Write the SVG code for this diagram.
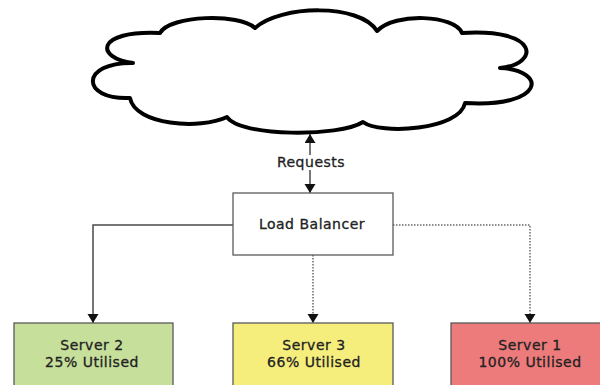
<svg xmlns="http://www.w3.org/2000/svg" width="600" height="385" viewBox="0 0 600 385">
<style>
  .lbl{font-family:"DejaVu Sans",Verdana,sans-serif;font-size:14px;letter-spacing:0.5px;fill:#222;stroke:#222;stroke-width:0.3;text-anchor:middle}
  .box{stroke:#5a5a5a;stroke-width:1.3}
  .solid{fill:none;stroke:#4a4a4a;stroke-width:1.5}
  .dot{fill:none;stroke:#6a6a6a;stroke-width:1.5;stroke-dasharray:1.5 1.5}
</style>
<defs>
  <marker id="ah" markerUnits="userSpaceOnUse" markerWidth="12" markerHeight="12" refX="9" refY="5.5" orient="auto">
    <polygon points="0,0 9,5.5 0,11" fill="#111"/>
  </marker>
</defs>
<rect width="600" height="385" fill="#fff"/>
<g id="cloud">
  <path d="M133,63 C95,58 95,30 160,33 C170,15 240,13 255,28 C280,5 360,3 377,31 C395,12 455,15 462,33 C540,28 540,64 500,68 C548,70 545,108 465,103 C460,130 380,135 363,122 C340,137 240,137 227,117 C200,130 135,125 130,98 C80,100 80,62 133,63 Z" fill="#fff" stroke="#000" stroke-width="4" stroke-linejoin="round"/>
</g>
<g id="connectors">
  <line x1="310" y1="155" x2="310" y2="134" class="solid" marker-end="url(#ah)"/>
  <line x1="310" y1="170" x2="310" y2="193" class="solid" marker-end="url(#ah)"/>
  <polyline points="233,225 93,225 93,323" class="solid" marker-end="url(#ah)"/>
  <line x1="313" y1="255" x2="313" y2="323" class="dot" marker-end="url(#ah)"/>
  <polyline points="393,225 530,225 530,323" class="dot" marker-end="url(#ah)"/>
</g>
<text class="lbl" x="311" y="167">Requests</text>
<g id="load-balancer">
  <rect x="233" y="193" width="160" height="62" fill="#fff" class="box"/>
  <text class="lbl" x="312" y="229">Load Balancer</text>
</g>
<g id="server2">
  <rect x="14" y="323" width="159" height="80" fill="#c6df9b" class="box"/>
  <text class="lbl" x="92" y="350">Server 2</text>
  <text class="lbl" x="92" y="367">25% Utilised</text>
</g>
<g id="server3">
  <rect x="233" y="323" width="160" height="80" fill="#f6ee7c" class="box"/>
  <text class="lbl" x="314" y="350">Server 3</text>
  <text class="lbl" x="314" y="367">66% Utilised</text>
</g>
<g id="server1">
  <rect x="451" y="323" width="170" height="80" fill="#ee7b7b" class="box"/>
  <text class="lbl" x="530" y="350">Server 1</text>
  <text class="lbl" x="530" y="367">100% Utilised</text>
</g>
</svg>
